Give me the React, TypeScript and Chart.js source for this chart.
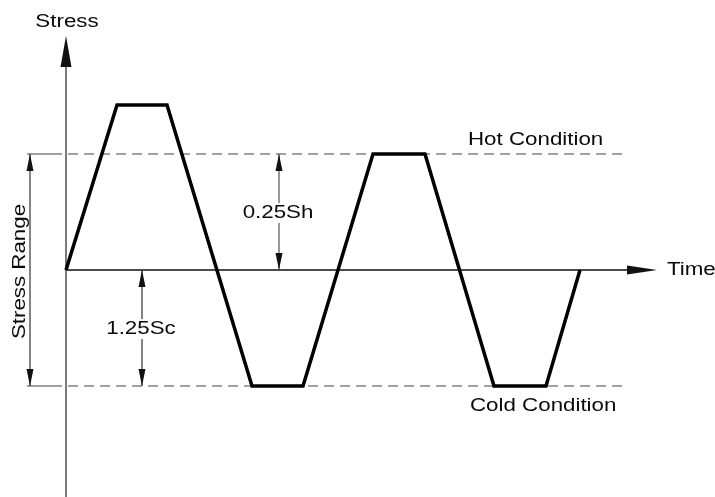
import React, { useEffect, useRef } from 'react';
import { Chart, registerables } from 'chart.js';
Chart.register(...registerables);

// Waveform vertices (time, stress) in diagram units; origin at axis crossing
const waveTime = [0, 51, 101, 186, 237, 307, 359, 428, 480, 514];
const waveStress = [0, 165, 165, -116, -116, 116, 116, -116, -116, 0];

// Reference levels
const hotStress = 116;
const coldStress = -116;

// Axis extents
const timeRange = [-66, 649];
const stressRange = [-227, 270];
const timeAxisTip = 591;
const stressAxisTip = 234;

// Extension (reference) lines
const extStart = -39;
const extSolidEnd = -4;
const extEnd = 561;

// Dimension arrows: time position, from stress, to stress
const dimTimes = [-36, 213, 76];
const dimFrom = [hotStress, hotStress, 0];
const dimTo = [coldStress, 0, coldStress];
const dimLabels = ['Stress Range', '0.25Sh', '1.25Sc'];

// Text labels
const textLabels = ['Stress', 'Hot Condition', 'Cold Condition', 'Time'];

const FONT_SIZE = 18;
const STRETCH = 1.24;
const FONT = `${FONT_SIZE}px "Liberation Sans", Arial, sans-serif`;

function drawText(
  ctx: CanvasRenderingContext2D,
  text: string,
  x: number,
  y: number,
  align: 'left' | 'center',
  baseline: CanvasTextBaseline,
  rotate = 0,
  bg = false
) {
  ctx.save();
  ctx.font = FONT;
  ctx.translate(x, y);
  if (rotate) ctx.rotate(rotate);
  ctx.scale(STRETCH, 1);
  const w = ctx.measureText(text).width;
  const left = align === 'center' ? -w / 2 : 0;
  if (bg) {
    ctx.fillStyle = '#ffffff';
    let top = -FONT_SIZE * 0.85;
    if (baseline === 'middle') top = -FONT_SIZE * 0.55;
    ctx.fillRect(left - 2, top, w + 4, FONT_SIZE * 1.1);
  }
  ctx.fillStyle = '#0a0a0a';
  ctx.textAlign = 'left';
  ctx.textBaseline = baseline;
  ctx.fillText(text, left, 0);
  ctx.restore();
}

function arrowHead(
  ctx: CanvasRenderingContext2D,
  tx: number,
  ty: number,
  dx: number,
  dy: number,
  len: number,
  half: number,
  color: string
) {
  const bx = tx - dx * len;
  const by = ty - dy * len;
  const px = -dy;
  const py = dx;
  ctx.save();
  ctx.fillStyle = color;
  ctx.beginPath();
  ctx.moveTo(tx, ty);
  ctx.lineTo(bx + px * half, by + py * half);
  ctx.lineTo(bx - px * half, by - py * half);
  ctx.closePath();
  ctx.fill();
  ctx.restore();
}

const annotPlugin = {
  id: 'annot',
  afterDatasetsDraw(chart: any) {
    const ctx: CanvasRenderingContext2D = chart.ctx;
    const xs = chart.scales.x;
    const ys = chart.scales.y;
    const X = (v: number) => xs.getPixelForValue(v);
    const Y = (v: number) => ys.getPixelForValue(v);

    // Axis arrowheads
    arrowHead(ctx, X(0), Y(stressAxisTip), 0, -1, 31, 5.5, '#111');
    arrowHead(ctx, X(timeAxisTip), Y(0), 1, 0, 30, 4.5, '#111');

    // Dimension arrows
    dimTimes.forEach((t, i) => {
      const x = X(t);
      const y1 = Y(dimFrom[i]);
      const y2 = Y(dimTo[i]);
      const color = i === 1 ? '#555' : '#333';
      ctx.save();
      ctx.strokeStyle = color;
      ctx.lineWidth = 1.2;
      ctx.beginPath();
      ctx.moveTo(x, y1);
      ctx.lineTo(x, y2);
      ctx.stroke();
      ctx.restore();
      const dir = y2 > y1 ? 1 : -1;
      arrowHead(ctx, x, y1, 0, -dir, 17, 3.5, '#111');
      arrowHead(ctx, x, y2, 0, dir, 17, 3.5, '#111');
    });

    // Dimension labels
    drawText(ctx, dimLabels[0], X(-41), Y(-1.5), 'center', 'alphabetic', -Math.PI / 2);
    drawText(ctx, dimLabels[1], X(212), Y(57), 'center', 'middle', 0, true);
    drawText(ctx, dimLabels[2], X(75), Y(-59), 'center', 'middle', 0, true);

    // Text labels
    drawText(ctx, textLabels[0], X(1), Y(243), 'center', 'alphabetic');
    drawText(ctx, textLabels[1], X(402), Y(125), 'left', 'alphabetic');
    drawText(ctx, textLabels[2], X(404), Y(-141), 'left', 'alphabetic');
    drawText(ctx, textLabels[3], X(601), Y(0), 'left', 'middle');
  },
};

function line(
  ts: number[],
  ss: number[],
  color: string,
  width: number,
  order: number,
  dash: number[] = []
) {
  return {
    data: ts.map((t, i) => ({ x: t, y: ss[i] })),
    showLine: true,
    borderColor: color,
    borderWidth: width,
    borderDash: dash,
    pointRadius: 0,
    pointHoverRadius: 0,
    tension: 0,
    fill: false,
    clip: false as any,
    order,
    borderJoinStyle: 'miter' as const,
    borderCapStyle: 'butt' as const,
  };
}

export default function App() {
  const ref = useRef<HTMLCanvasElement>(null);
  useEffect(() => {
    if (!ref.current) return;
    const chart = new Chart(ref.current, {
      type: 'scatter',
      data: {
        datasets: [
          line(waveTime, waveStress, '#000000', 3.5, 0),
          line([extStart, extSolidEnd], [hotStress, hotStress], '#444', 1.2, 2),
          line([extSolidEnd + 6, extEnd], [hotStress, hotStress], '#444', 1.2, 2, [10, 6]),
          line([extStart, extSolidEnd], [coldStress, coldStress], '#444', 1.2, 2),
          line([extSolidEnd + 6, extEnd], [coldStress, coldStress], '#444', 1.2, 2, [10, 6]),
          line([0, 0], [stressRange[0], stressAxisTip - 20], '#333', 1.3, 1),
          line([0, timeAxisTip - 20], [0, 0], '#111', 1.4, 1),
        ] as any,
      },
      options: {
        animation: false,
        responsive: true,
        maintainAspectRatio: false,
        layout: { padding: 0 },
        plugins: { legend: { display: false }, tooltip: { enabled: false } },
        events: [],
        scales: {
          x: { type: 'linear', min: timeRange[0], max: timeRange[1], display: false },
          y: { type: 'linear', min: stressRange[0], max: stressRange[1], display: false },
        },
      },
      plugins: [annotPlugin],
    });
    return () => chart.destroy();
  }, []);
  return (
    <div style={{ position: 'fixed', left: 0, top: 0, width: 715, height: 497, background: '#fff' }}>
      <canvas ref={ref} />
    </div>
  );
}
